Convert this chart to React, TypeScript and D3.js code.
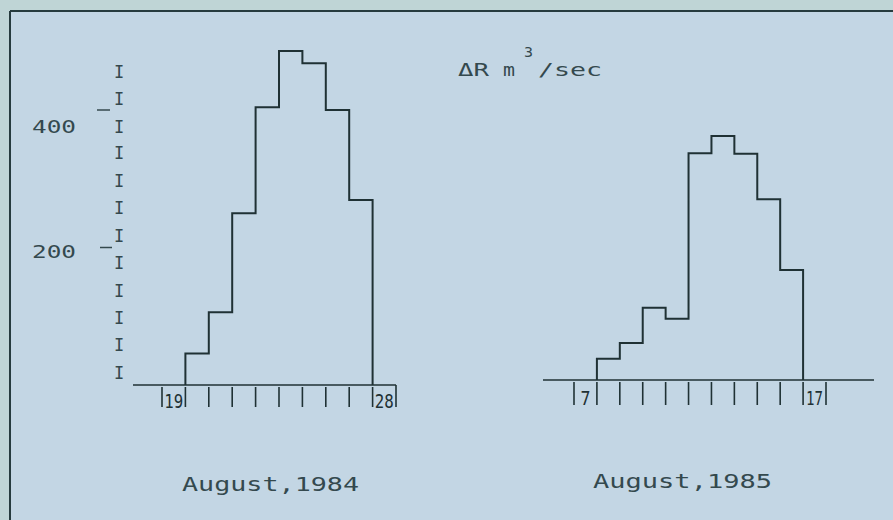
import React from "react";
import * as d3 from "d3";

// ΔR, m³/sec per day — August 1984 (days 20..27) and August 1985 (days 8..16)
const days1984 = [20, 21, 22, 23, 24, 25, 26, 27];
const values1984 = [46, 106, 250, 404, 486, 468, 400, 269];
const days1985 = [8, 9, 10, 11, 12, 13, 14, 15, 16];
const values1985 = [31, 54, 105, 89, 330, 355, 329, 263, 160];

// axis ticks and labels
const ticks1984 = [19, 20, 21, 22, 23, 24, 25, 26, 27, 28, 29];
const ticks1985 = [7, 8, 9, 10, 11, 12, 13, 14, 15, 16, 17, 18];
const dayLabels1984 = [19, 28];
const dayLabels1985 = [7, 17];
const yLabels = ["400", "200"];
const yLabelValues = [400, 200];
const yMinorTicks = [18, 58, 97, 137, 177, 217, 257, 297, 337, 376, 416, 455];

const W = 893;
const H = 520;
const INK = "#1f3134";
const TEXT = "#34494e";
const FONT = "'DejaVu Sans Mono', monospace";

type Pt = { d: number; v: number };

const stepPoints = (days: number[], vals: number[]): Pt[] => {
  const last = days[days.length - 1] + 1;
  return [
    { d: days[0], v: 0 },
    ...days.map((d, i) => ({ d, v: vals[i] })),
    { d: last, v: vals[vals.length - 1] },
    { d: last, v: 0 },
  ];
};

const App: React.FC = () => {
  // left panel (1984)
  const xL = d3.scaleLinear().domain([19, 29]).range([162, 396]);
  const yL = d3.scaleLinear().domain([0, 400]).range([385, 110]);
  // right panel (1985), scan sits a little higher
  const xR = d3.scaleLinear().domain([7, 18]).range([574, 826]);
  const yR = d3.scaleLinear().domain([0, 400]).range([380, 105]);

  const lineL = d3
    .line<Pt>()
    .x((p) => xL(p.d))
    .y((p) => yL(p.v))
    .curve(d3.curveStepAfter);
  const lineR = d3
    .line<Pt>()
    .x((p) => xR(p.d))
    .y((p) => yR(p.v))
    .curve(d3.curveStepAfter);

  const labelNudge = [23, 10]; // label baselines sit below their tick marks
  const tickSpan = [
    [97, 110],
    [100, 112],
  ];

  return (
    <div style={{ position: "fixed", left: 0, top: 0, width: W, height: H }}>
      <svg width={W} height={H} style={{ display: "block" }}>
        <rect x={0} y={0} width={W} height={H} fill="#bfd5d6" />
        <rect x={10} y={11} width={W - 10} height={H - 11} fill="#c3d6e4" />
        <line x1={10} y1={11} x2={W} y2={11} stroke="#263b3e" strokeWidth={2} />
        <line x1={10} y1={11} x2={10} y2={H} stroke="#263b3e" strokeWidth={2} />

        {/* y axis: I marks, ticks, labels */}
        <g fill={TEXT} fontFamily={FONT}>
          {yMinorTicks.map((v) => (
            <text key={v} x={119} y={yL(v) + 6} fontSize={17} textAnchor="middle">
              I
            </text>
          ))}
          {yLabelValues.map((v, i) => (
            <g key={v}>
              <line
                x1={tickSpan[i][0]}
                x2={tickSpan[i][1]}
                y1={yL(v)}
                y2={yL(v)}
                stroke={TEXT}
                strokeWidth={1.5}
              />
              <text x={32} y={yL(v) + labelNudge[i]} fontSize={18} textLength={44} lengthAdjust="spacingAndGlyphs">
                {yLabels[i]}
              </text>
            </g>
          ))}
        </g>

        {/* unit label */}
        <g fill={TEXT} fontFamily={FONT}>
          <text x={458} y={76} fontSize={17} textLength={31} lengthAdjust="spacingAndGlyphs">
            ΔR
          </text>
          <text x={503} y={76} fontSize={17} textLength={12} lengthAdjust="spacingAndGlyphs">
            m
          </text>
          <text x={524} y={57} fontSize={14} textLength={9} lengthAdjust="spacingAndGlyphs">
            3
          </text>
          <text x={538} y={76} fontSize={17} textLength={64} lengthAdjust="spacingAndGlyphs">
            /sec
          </text>
        </g>

        {/* 1984 panel */}
        <line x1={133} x2={xL(29)} y1={yL(0)} y2={yL(0)} stroke={INK} strokeWidth={1.6} />
        {ticks1984.map((d) => (
          <line key={d} x1={xL(d)} x2={xL(d)} y1={yL(0) + 2} y2={yL(0) + 22} stroke={INK} strokeWidth={1.6} />
        ))}
        <line x1={xL(29)} x2={xL(29)} y1={yL(0)} y2={yL(0) + 2} stroke={INK} strokeWidth={1.6} />
        {dayLabels1984.map((d) => (
          <text
            key={d}
            x={xL(d + 0.5)}
            y={yL(0) + 23}
            fontSize={20}
            fontFamily={FONT}
            fill={INK}
            textAnchor="middle"
            textLength={19}
            lengthAdjust="spacingAndGlyphs"
          >
            {d}
          </text>
        ))}
        <path d={lineL(stepPoints(days1984, values1984)) || ""} fill="none" stroke={INK} strokeWidth={2} />
        <text x={182} y={491} fontSize={20} fontFamily={FONT} fill={TEXT} textLength={177} lengthAdjust="spacingAndGlyphs">
          August,1984
        </text>

        {/* 1985 panel */}
        <line x1={543} x2={874} y1={yR(0)} y2={yR(0)} stroke={INK} strokeWidth={1.6} />
        {ticks1985.map((d) => (
          <line key={d} x1={xR(d)} x2={xR(d)} y1={yR(0) + 2} y2={yR(0) + 25} stroke={INK} strokeWidth={1.6} />
        ))}
        {dayLabels1985.map((d) => (
          <text
            key={d}
            x={xR(d + 0.5)}
            y={yR(0) + 25}
            fontSize={20}
            fontFamily={FONT}
            fill={INK}
            textAnchor="middle"
            textLength={d < 10 ? 10 : 17}
            lengthAdjust="spacingAndGlyphs"
          >
            {d}
          </text>
        ))}
        <path d={lineR(stepPoints(days1985, values1985)) || ""} fill="none" stroke={INK} strokeWidth={2} />
        <text x={593} y={488} fontSize={20} fontFamily={FONT} fill={TEXT} textLength={179} lengthAdjust="spacingAndGlyphs">
          August,1985
        </text>
      </svg>
    </div>
  );
};

export default App;
